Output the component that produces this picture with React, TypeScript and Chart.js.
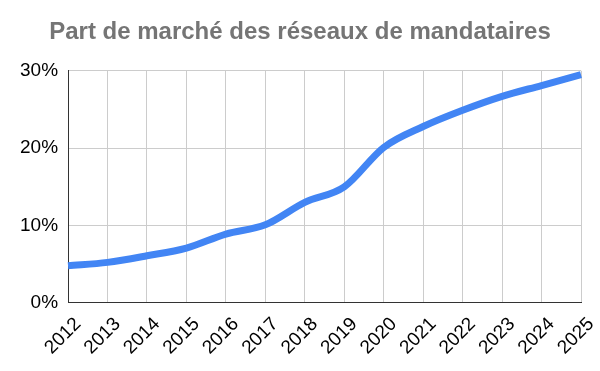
import React, { useEffect, useRef } from "react";
import { Chart, registerables } from "chart.js";

Chart.register(...registerables);

const years = ["2012","2013","2014","2015","2016","2017","2018","2019","2020","2021","2022","2023","2024","2025"];
const share = [4.8, 5.25, 6.1, 7.1, 8.9, 10.1, 13.0, 15.0, 20.1, 22.8, 24.9, 26.7, 28.1, 29.5];
const title = "Part de marché des réseaux de mandataires";

export default function App() {
  const ref = useRef<HTMLCanvasElement | null>(null);
  useEffect(() => {
    document.body.style.margin = "0";
    const chart = new Chart(ref.current!, {
      type: "line",
      data: {
        labels: years,
        datasets: [{
          data: share,
          borderColor: "#4285F4",
          borderWidth: 7,
          pointRadius: 0,
          cubicInterpolationMode: "monotone",
          fill: false,
        }],
      },
      options: {
        animation: false,
        responsive: false,
        layout: { padding: { left: 19, right: 19, top: 0, bottom: 2 } },
        plugins: {
          legend: { display: false },
          tooltip: { enabled: false },
          title: {
            display: true,
            text: title,
            color: "#757575",
            font: { family: "Arial, 'Liberation Sans', sans-serif", size: 24, weight: "bold" },
            padding: { top: 18, bottom: 24 },
          },
        },
        scales: {
          x: {
            offset: false,
            afterFit: (s: any) => { s.paddingRight = 0; },
            grid: { color: "#cccccc", drawTicks: false },
            border: { color: "#333333", width: 1 },
            ticks: {
              color: "#000",
              font: { family: "Arial, 'Liberation Sans', sans-serif", size: 19 },
              maxRotation: 45,
              minRotation: 45,
              padding: 10,
              labelOffset: 10,
              autoSkip: false,
            },
          },
          y: {
            min: 0,
            max: 30,
            afterFit: (s: any) => { s.width = s.width - 9; },
            grid: { color: "#cccccc", drawTicks: false },
            border: { color: "#333333", width: 1 },
            ticks: {
              stepSize: 10,
              color: "#000",
              font: { family: "Arial, 'Liberation Sans', sans-serif", size: 19 },
              padding: 10,
              callback: (v: any) => v + "%",
            },
          },
        },
      },
    });
    return () => chart.destroy();
  }, []);
  return (
    <div style={{ width: 600, height: 371, background: "#fff" }}>
      <canvas ref={ref} width={600} height={371} />
    </div>
  );
}
